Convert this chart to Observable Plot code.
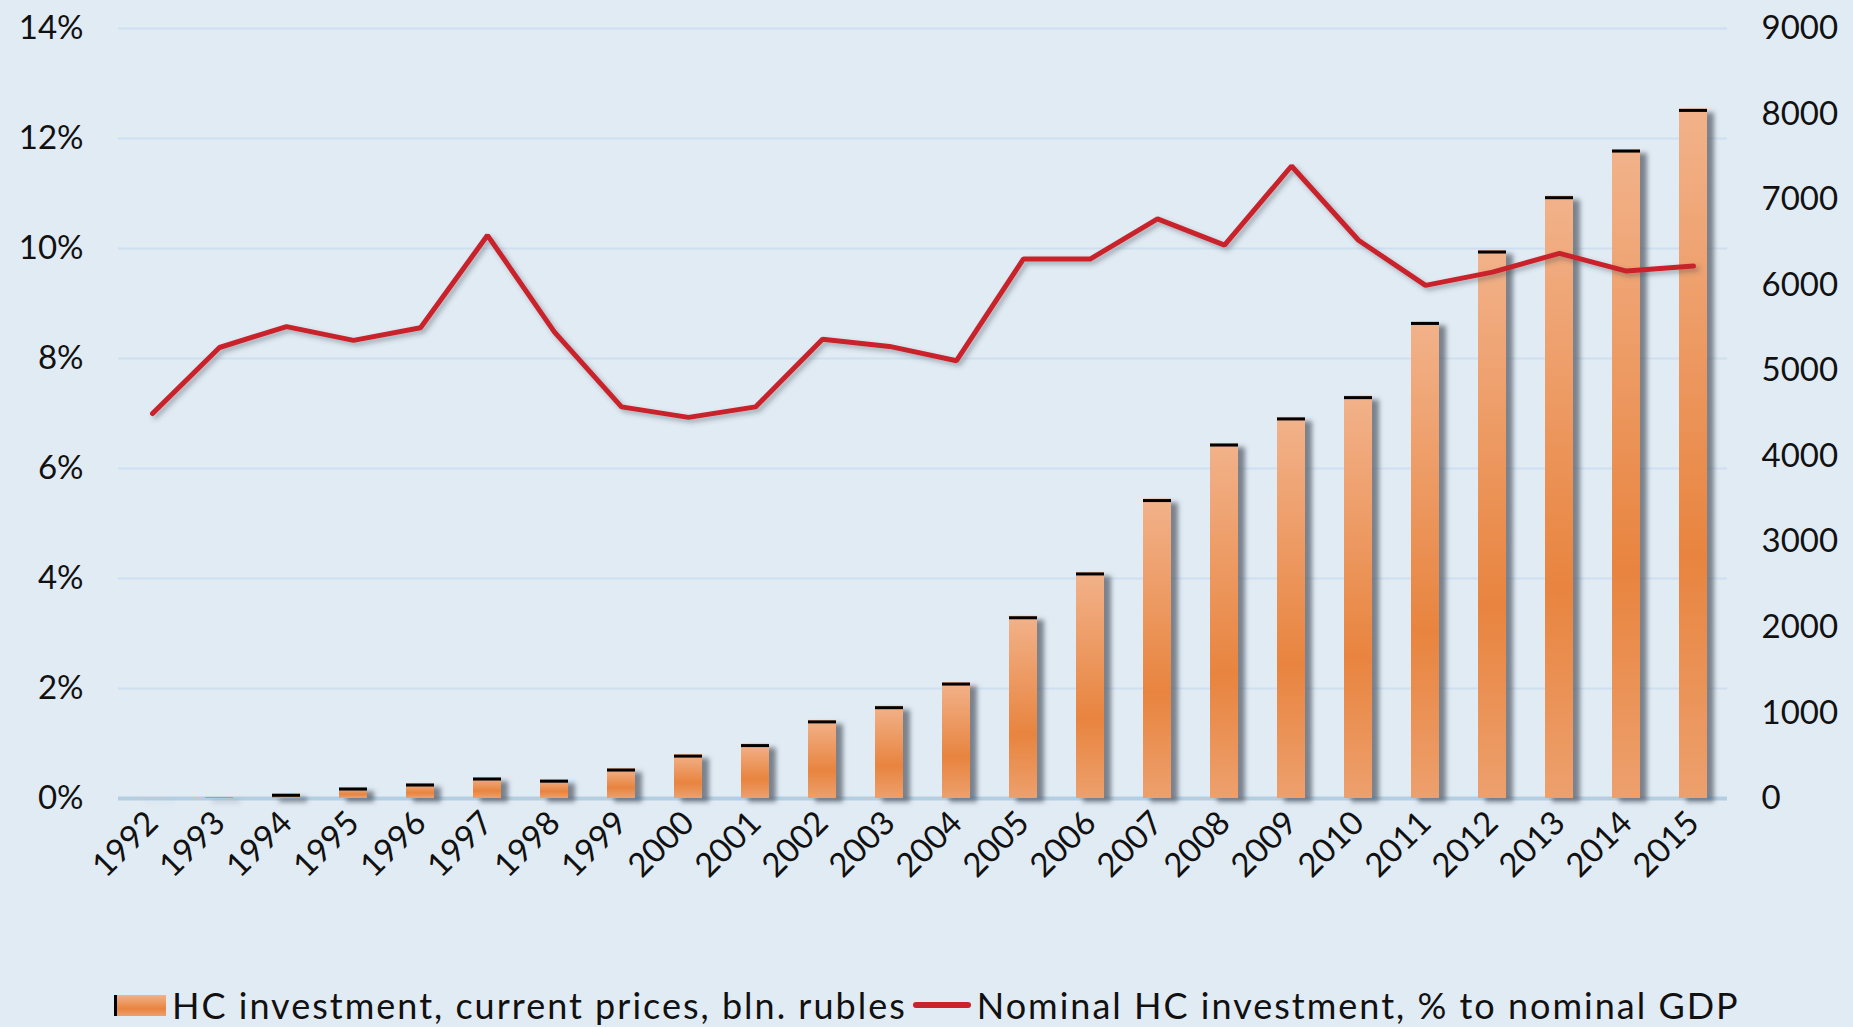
<!DOCTYPE html>
<html><head><meta charset="utf-8">
<script src="https://cdn.jsdelivr.net/npm/d3@7"></script>
<script src="https://cdn.jsdelivr.net/npm/@observablehq/plot@0.6"></script>
<style>
html,body{margin:0;padding:0;background:#e1ebf4;width:1853px;height:1027px;overflow:hidden;}
#wrap{position:relative;width:1853px;height:1027px;}
#chart svg{display:block;}
.legend{position:absolute;left:114px;top:980px;height:50px;display:flex;align-items:center;font-family:Lato, sans-serif;font-size:36px;letter-spacing:2px;color:#111;white-space:nowrap;}
.sw-bar{width:52px;height:21px;border-left:3px solid #000;box-sizing:border-box;background:linear-gradient(#f2b28a,#e8843f 65%,#eda06d);margin-right:6px;}
.sw-line{width:58px;height:6px;background:#c9232b;border-radius:3px;margin:0 6px 0 6px;}
</style></head><body>
<div id="wrap"><div id="chart"></div>
<div class="legend"><span class="sw-bar"></span><span>HC investment, current prices, bln. rubles</span><span class="sw-line"></span><span>Nominal HC investment, % to nominal GDP</span></div>
</div>
<script>
const years = [1992,1993,1994,1995,1996,1997,1998,1999,2000,2001,2002,2003,2004,2005,2006,2007,2008,2009,2010,2011,2012,2013,2014,2015];
const hcInvestment = [2,12,55,128,175,245,220,350,513,636,913,1079,1355,2130,2642,3500,4149,4454,4703,5570,6405,7040,7585,8060];
const hcShareGDP = [7.0,8.2,8.58,8.33,8.56,10.24,8.48,7.12,6.93,7.12,8.35,8.22,7.96,9.81,9.81,10.54,10.06,11.5,10.15,9.33,9.57,9.91,9.59,9.68];
const leftTicks = [0,2,4,6,8,10,12,14];
const rightTicks = [0,1000,2000,3000,4000,5000,6000,7000,8000,9000];

const K = 14/9000; // right axis (bln. rubles) mapped onto left axis (%)
const data = years.map((y,i)=>({year:String(y), inv:hcInvestment[i], pct:hcShareGDP[i]}));

const chart = Plot.plot({
  width:1853, height:960,
  marginLeft:118, marginRight:126, marginTop:28, marginBottom:162,
  style:{background:"transparent", fontFamily:"Lato, sans-serif", fontSize:"33px", color:"#111", overflow:"visible"},
  x:{type:"band", domain:data.map(d=>d.year), paddingInner:0.58, paddingOuter:0.28},
  y:{domain:[0,14]},
  marks:[
    Plot.gridY(leftTicks.filter(t=>t>0), {stroke:"#cddff0", strokeOpacity:1, strokeWidth:2}),
    Plot.ruleY([0], {stroke:"#b5cfe2", strokeWidth:4}),
    Plot.barY(data, {x:"year", y:d=>d.inv*K, fill:"url(#barGrad)"}),
    Plot.tickY(data.filter(d=>d.inv>30), {x:"year", y:d=>d.inv*K, stroke:"#000", strokeWidth:3, dy:1.5}),
    Plot.line(data, {x:"year", y:"pct", stroke:"#c9232b", strokeWidth:5, strokeLinejoin:"miter"}),
    Plot.axisY(leftTicks, {anchor:"left", tickSize:0, tickPadding:35, tickFormat:d=>d+"%", label:null}),
    Plot.axisY(rightTicks.map(v=>v*K), {anchor:"right", tickSize:0, tickPadding:34, tickFormat:d=>String(Math.round(d/K)), label:null}),
    Plot.axisX({tickRotate:-45, tickSize:0, tickPadding:19, label:null})
  ]
});
document.getElementById("chart").appendChild(chart);

const svg = d3.select(chart);
const defs = svg.insert("defs", ":first-child");
const g = defs.append("linearGradient").attr("id","barGrad").attr("x1",0).attr("y1",0).attr("x2",0).attr("y2",1);
g.append("stop").attr("offset","0%").attr("stop-color","#f2b28a");
g.append("stop").attr("offset","65%").attr("stop-color","#e8843f");
g.append("stop").attr("offset","100%").attr("stop-color","#eda06d");
const f = defs.append("filter").attr("id","shadow").attr("x","-20%").attr("y","-20%").attr("width","140%").attr("height","140%");
f.append("feDropShadow").attr("dx",7).attr("dy",4).attr("stdDeviation",2.5).attr("flood-color","#56606c").attr("flood-opacity",0.75);
const f2 = defs.append("filter").attr("id","lshadow").attr("x","-5%").attr("y","-20%").attr("width","110%").attr("height","140%");
f2.append("feDropShadow").attr("dx",3).attr("dy",3).attr("stdDeviation",2.5).attr("flood-color","#3a4350").attr("flood-opacity",0.4);
svg.select('g[aria-label="bar"]').attr("filter","url(#shadow)");
svg.select('g[aria-label="line"]').attr("filter","url(#lshadow)");
</script>
</body></html>
